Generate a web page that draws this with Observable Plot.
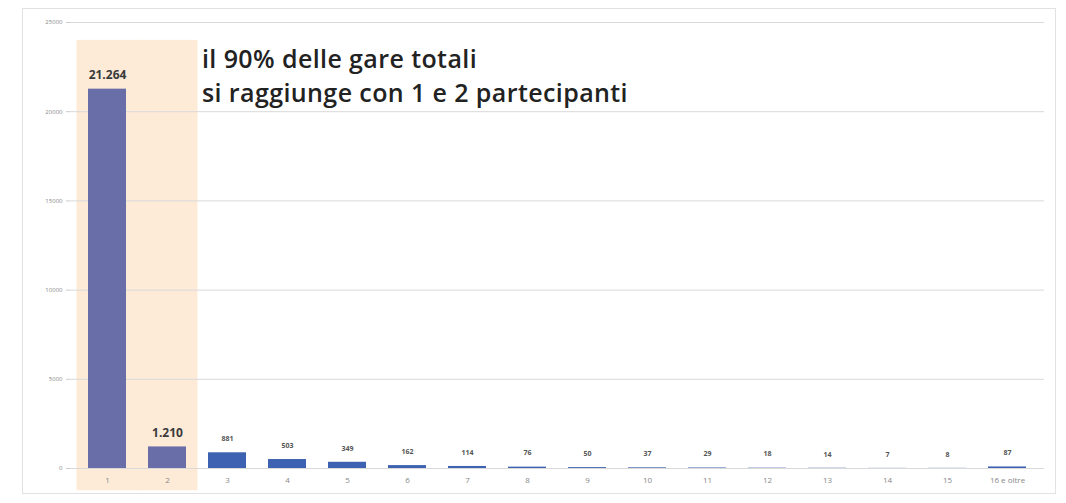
<!DOCTYPE html>
<html>
<head>
<meta charset="utf-8">
<script src="https://cdn.jsdelivr.net/npm/d3@7"></script>
<script src="https://cdn.jsdelivr.net/npm/@observablehq/plot@0.6"></script>
<style>
  html, body { margin: 0; padding: 0; background: #fff; }
  #wrap { position: relative; width: 1066px; height: 503px; overflow: hidden; font-family: "Open Sans", sans-serif; }
  #frame { position: absolute; left: 22px; top: 8px; width: 1034px; height: 486px; border: 1px solid #e2e2e2; box-sizing: border-box; }
  #note { position: absolute; left: 202px; top: 41px; font-size: 25px; font-weight: 600; line-height: 34px; color: #222; letter-spacing: 0.4px; white-space: nowrap; }
  #chart { position: absolute; left: 0; top: 0; }
</style>
</head>
<body>
<div id="wrap">
  <div id="frame"></div>
  <div id="chart"></div>
  <div id="note">il 90% delle gare totali<br>si raggiunge con 1 e 2 partecipanti</div>
</div>
<script>
// Numero di partecipanti per gara
const categories = ["1","2","3","4","5","6","7","8","9","10","11","12","13","14","15","16 e oltre"];
const values = [21264, 1210, 881, 503, 349, 162, 114, 76, 50, 37, 29, 18, 14, 7, 8, 87];
const groups = ["top","top","mid","mid","mid","mid","mid","mid","mid","mid","mid","mid","mid","mid","mid","mid"];
const highlighted = ["1", "2"];
const yTicks = [0, 5000, 10000, 15000, 20000, 25000];

const data = categories.map((c, i) => ({cat: c, value: values[i], group: groups[i]}));
const fmt = d3.format(",");
const itFmt = v => fmt(v).replace(/,/g, ".");

const chart = Plot.plot({
  width: 1066,
  height: 503,
  marginLeft: 70,
  marginRight: 22,
  marginTop: 22,
  marginBottom: 35,
  style: {background: "transparent", fontFamily: "Open Sans, sans-serif"},
  x: {domain: categories, paddingInner: 0.37, paddingOuter: 0.2, label: null, tickSize: 0, tickPadding: 10},
  y: {domain: [0, 25000], ticks: yTicks, label: null, tickSize: 4, tickPadding: 6},
  marks: [
    // highlight band behind bars 1 and 2
    Plot.barY(highlighted, {x: d => d, y1: -1250, y2: 24000, fill: "#fdebd8", insetLeft: -11.5, insetRight: -11.5, clip: false}),
    Plot.gridY(yTicks, {stroke: "#d9d9d9", strokeOpacity: 1, strokeWidth: 1}),
    Plot.axisY({ticks: yTicks, tickSize: 4, tickPadding: 4, fontSize: 6, stroke: "#ccc", color: "#888", tickFormat: d => String(d)}),
    Plot.axisX({tickSize: 0, tickPadding: 9, fontSize: 8, color: "#888"}),
    Plot.barY(data, {x: "cat", y: "value", fill: d => d.group === "top" ? "#6a6ea8" : "#3d62b2"}),
    Plot.text(data.filter(d => d.group === "top"), {x: "cat", y: "value", text: d => itFmt(d.value), dy: -14, fontSize: 12, fontWeight: "bold", fill: "#3a3a3a"}),
    Plot.text(data.filter(d => d.group !== "top"), {x: "cat", y: "value", text: d => itFmt(d.value), dy: -14, fontSize: 7, fontWeight: "bold", fill: "#555"})
  ]
});
document.getElementById("chart").appendChild(chart);
</script>
</body>
</html>
